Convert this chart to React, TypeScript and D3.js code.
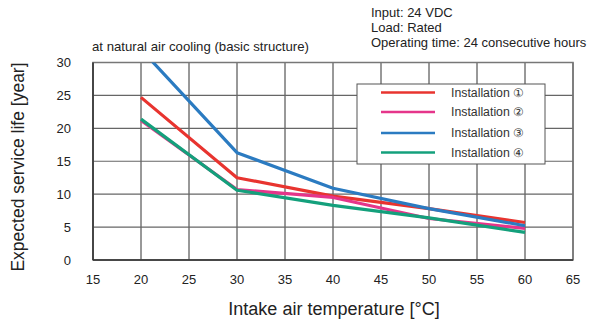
import React from "react";
import * as d3 from "d3";

const temps = [20, 30, 40, 50, 60];
const inst1 = [24.7, 12.5, 9.7, 7.8, 5.7];
const inst2 = [21.2, 10.7, 9.5, 6.3, 4.8];
const inst3 = [32.0, 16.3, 10.9, 7.8, 5.2];
const inst4 = [21.4, 10.6, 8.3, 6.4, 4.2];
const seriesNames = ["Installation \u2460", "Installation \u2461", "Installation \u2462", "Installation \u2463"];
const seriesColors = ["#e8342f", "#e5358a", "#2b7bc1", "#14a07c"];
const xTicks = [15, 20, 25, 30, 35, 40, 45, 50, 55, 60, 65];
const yTicks = [0, 5, 10, 15, 20, 25, 30];

export default function App() {
  const W = 595, H = 325;
  const x = d3.scaleLinear().domain([15, 65]).range([93, 573]);
  const y = d3.scaleLinear().domain([0, 30]).range([260, 62.5]);
  const line = d3.line<[number, number]>().x(d => x(d[0])).y(d => y(d[1]));
  const all = [inst1, inst2, inst3, inst4];
  const font = "'Liberation Sans', Arial, sans-serif";
  const legX = 357, legY = 84, legW = 188, legH = 80;
  const rowY = [92.5, 112, 133, 152.5];
  return (
    <svg width={W} height={H} style={{ position: "absolute", left: 0, top: 0 }} fontFamily={font}>
      <defs>
        <clipPath id="plot">
          <rect x={x(15)} y={y(30)} width={x(65) - x(15)} height={y(0) - y(30)} />
        </clipPath>
      </defs>
      <rect width={W} height={H} fill="#fff" />
      {xTicks.map(t => (
        <line key={"gx" + t} x1={x(t)} x2={x(t)} y1={y(0)} y2={y(30)} stroke="#333" strokeWidth={1} />
      ))}
      {yTicks.map(t => (
        <line key={"gy" + t} x1={x(15)} x2={x(65)} y1={y(t)} y2={y(t)} stroke="#666" strokeWidth={1.2} />
      ))}
      <rect x={x(15)} y={y(30)} width={x(65) - x(15)} height={y(0) - y(30)} fill="none" stroke="#777" strokeWidth={1.5} />
      <line x1={x(15)} x2={x(15)} y1={y(0)} y2={y(30)} stroke="#333" strokeWidth={1.5} />
      <line x1={x(15)} x2={x(65)} y1={y(0)} y2={y(0)} stroke="#333" strokeWidth={1.5} />
      <g clipPath="url(#plot)">
        {all.map((s, i) => (
          <path key={i} d={line(temps.map((t, j) => [t, s[j]]) as [number, number][]) || ""}
            fill="none" stroke={seriesColors[i]} strokeWidth={3.2} strokeLinejoin="round" />
        ))}
      </g>
      <rect x={legX} y={legY} width={legW} height={legH} fill="#fff" stroke="#555" strokeWidth={1} />
      {seriesNames.map((n, i) => (
        <g key={n}>
          <line x1={381} x2={435} y1={rowY[i]} y2={rowY[i]} stroke={seriesColors[i]} strokeWidth={2.6} />
          <text x={451} y={rowY[i] + 4.3} fontSize={12.3} fill="#333">{n}</text>
        </g>
      ))}
      {yTicks.map(t => (
        <text key={"ly" + t} x={71} y={y(t) + 4.5} fontSize={13} textAnchor="end" fill="#222">{t}</text>
      ))}
      {xTicks.map(t => (
        <text key={"lx" + t} x={x(t)} y={283.5} fontSize={13} textAnchor="middle" fill="#222">{t}</text>
      ))}
      <text x={92} y={51} fontSize={13.2} fill="#222">at natural air cooling (basic structure)</text>
      <text x={371} y={17} fontSize={13} fill="#222">Input: 24 VDC</text>
      <text x={371} y={32} fontSize={13} fill="#222">Load: Rated</text>
      <text x={371} y={47} fontSize={13} fill="#222">Operating time: 24 consecutive hours</text>
      <text x={334} y={315} fontSize={18} textAnchor="middle" fill="#222">Intake air temperature [°C]</text>
      <text transform="translate(24,167) rotate(-90)" fontSize={17.5} textAnchor="middle" fill="#222">Expected service life [year]</text>
    </svg>
  );
}
